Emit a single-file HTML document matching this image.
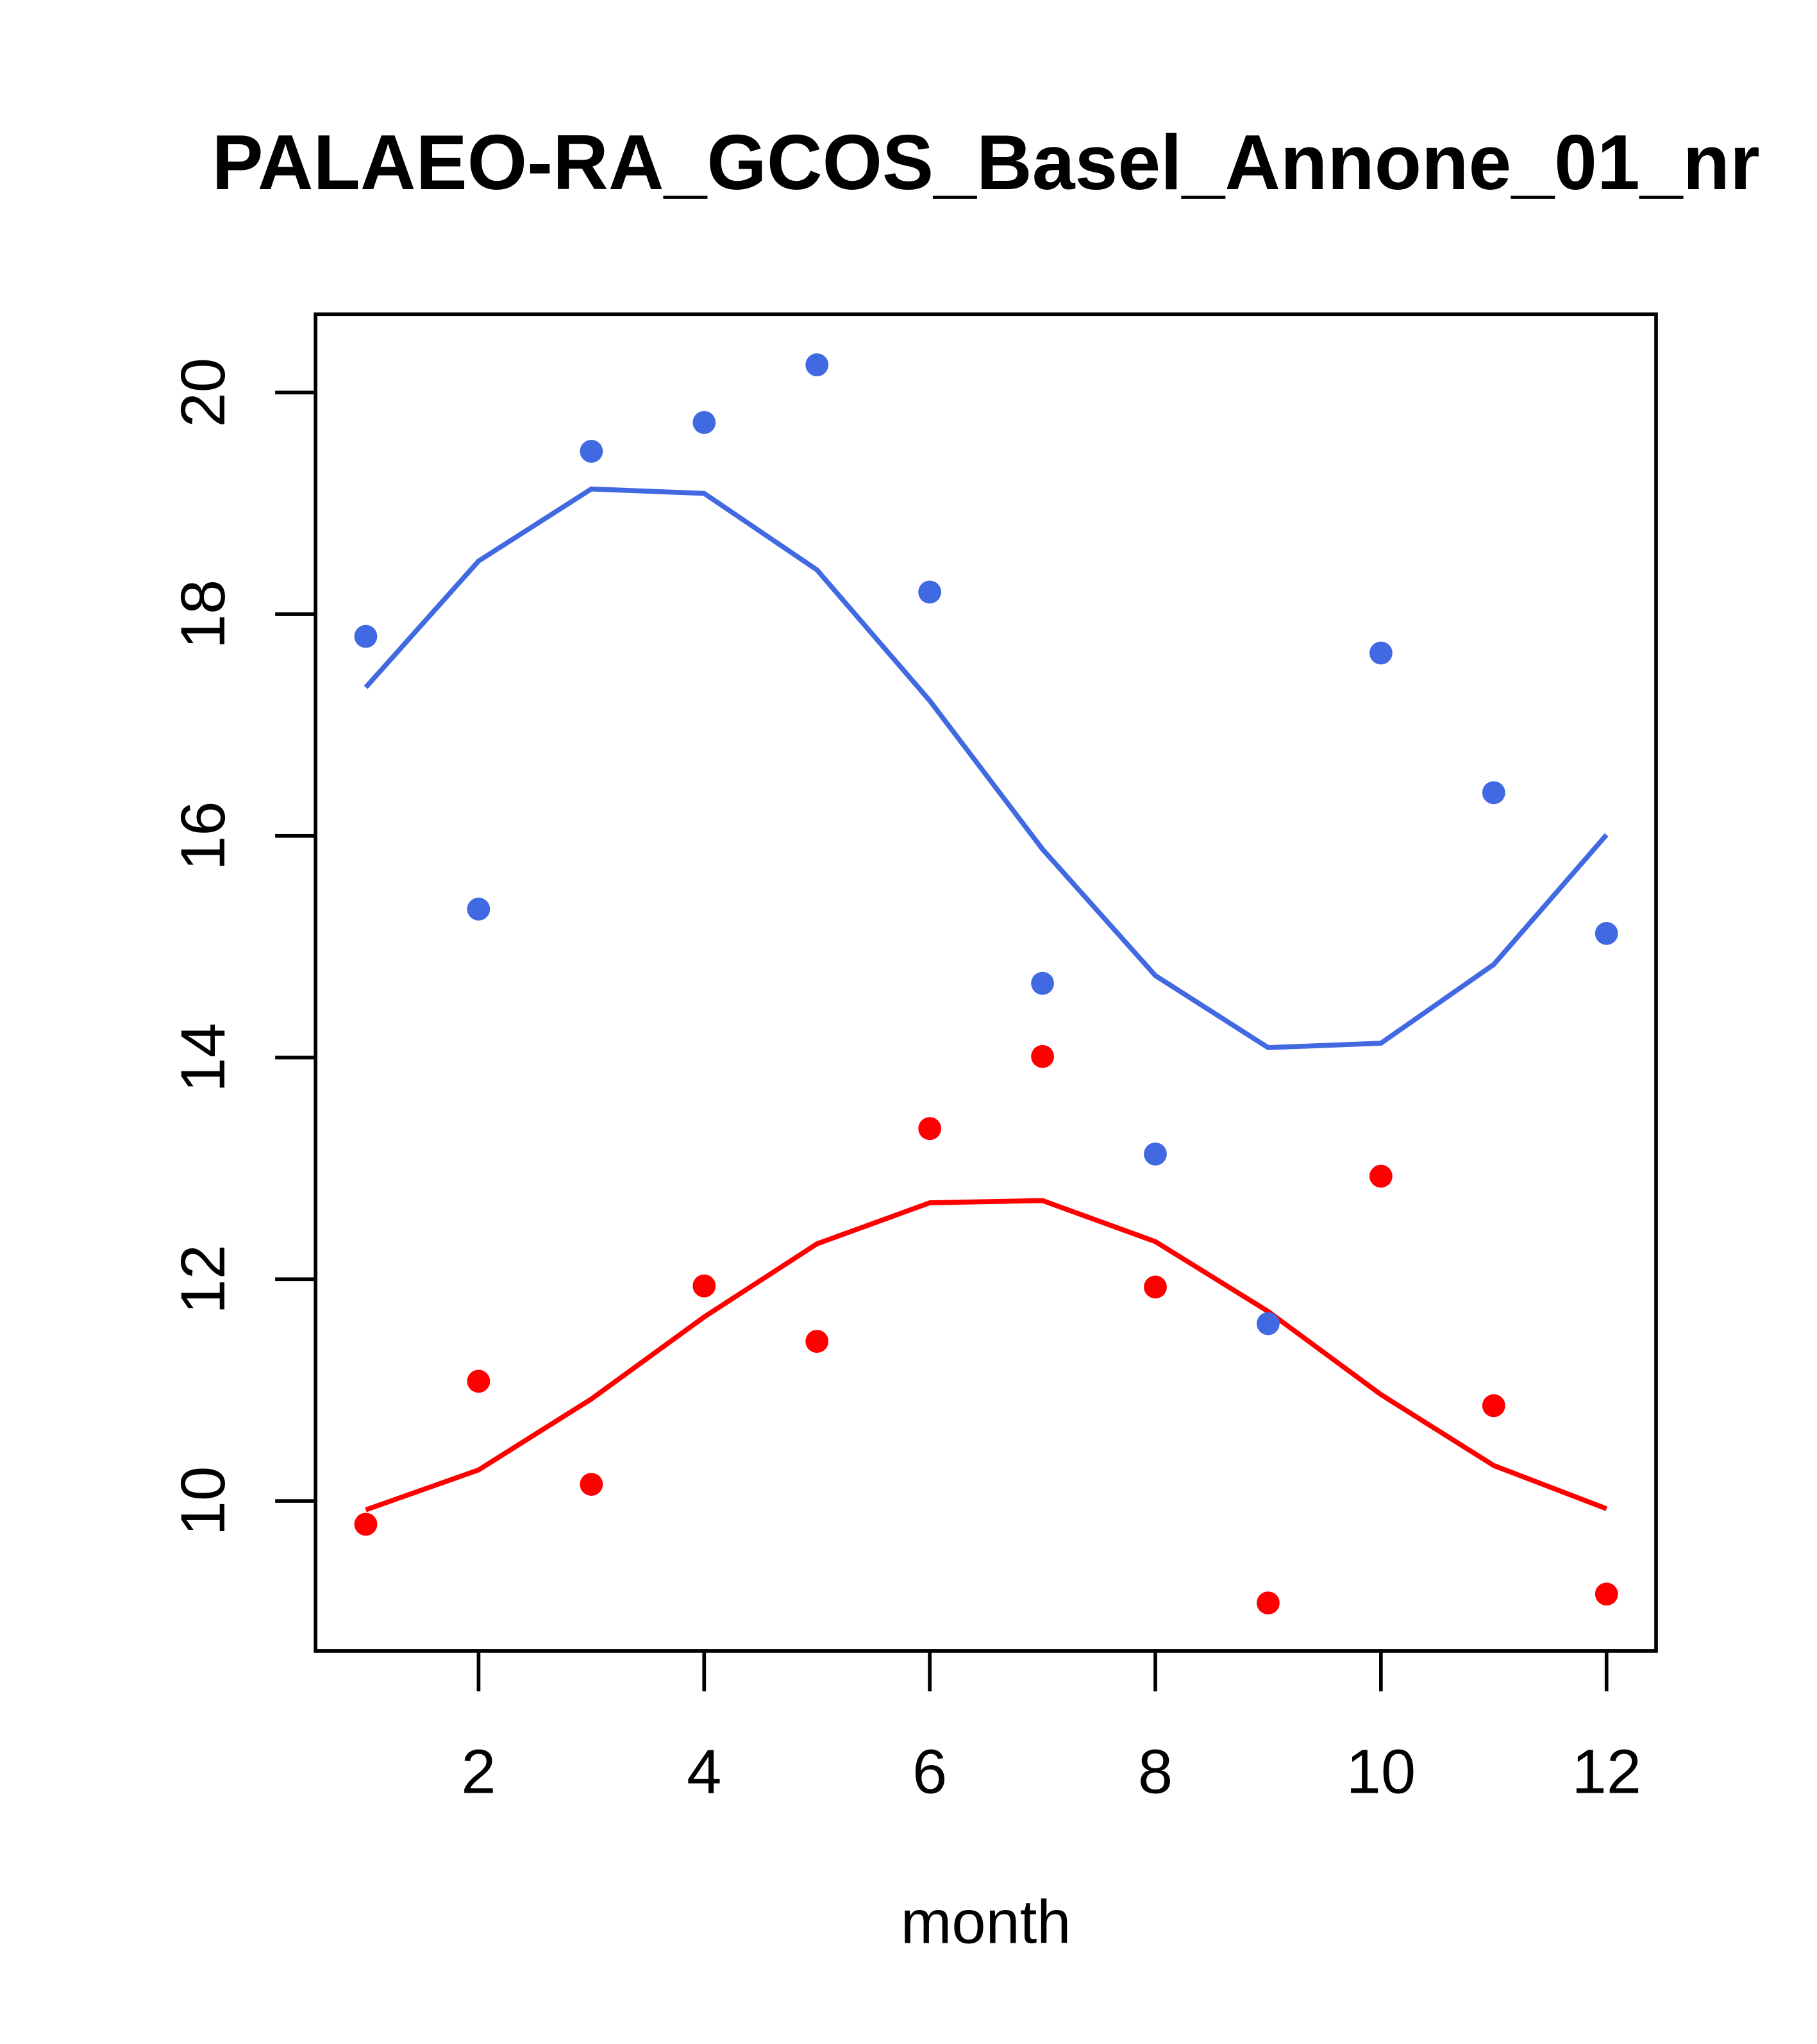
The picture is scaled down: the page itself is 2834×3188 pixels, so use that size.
<!DOCTYPE html>
<html><head><meta charset="utf-8"><style>html,body{margin:0;padding:0;background:#fff}svg{display:block}</style></head>
<body>
<svg id="chart" width="2834" height="3188" viewBox="0 0 1393.4 1567.4" xmlns="http://www.w3.org/2000/svg" font-family="Liberation Sans, Arial, sans-serif">
<rect width="1400" height="1575" fill="#fff"/>
<text x="756" y="145" font-size="60" font-weight="bold" text-anchor="middle" textLength="1187" lengthAdjust="spacingAndGlyphs">PALAEO-RA_GCOS_Basel_Annone_01_nr</text>
<rect x="242" y="241" width="1028" height="1025" fill="none" stroke="#000" stroke-width="2.8"/>
<g id="xaxis"></g>
<g id="yaxis"></g>
<text x="756" y="1490" font-size="47" text-anchor="middle">month</text>
<g id="marks"></g>
</svg>
<script>
const months=[1,2,3,4,5,6,7,8,9,10,11,12];
const bluePoints=[17.8,15.34,19.47,19.73,20.25,18.2,14.67,13.13,11.6,17.65,16.39,15.12];
const blueLine=[17.34,18.48,19.13,19.09,18.4,17.22,15.88,14.74,14.09,14.13,14.84,16.01];
const redPoints=[9.79,11.08,10.15,11.94,11.44,13.36,14.01,11.93,9.08,12.93,10.86,9.16];
const redLine=[9.92,10.28,10.92,11.66,12.32,12.69,12.71,12.34,11.71,10.96,10.32,9.93];
const xTicks=[2,4,6,8,10,12];
const yTicks=[10,12,14,16,18,20];
const NS='http://www.w3.org/2000/svg';
function sx(m){return 367+(m-2)*86.5;}
function sy(v){return 1151-(v-10)*85;}
function mk(t,a,p){const e=document.createElementNS(NS,t);for(const k in a)e.setAttribute(k,a[k]);p.appendChild(e);return e;}
const xa=document.getElementById('xaxis'),ya=document.getElementById('yaxis'),mg=document.getElementById('marks');
xTicks.forEach(t=>{
  const l=mk('line',{x1:sx(t),x2:sx(t),y1:1266,y2:1297,stroke:'#000','stroke-width':2.8},xa);
  
  
  const s=mk('text',{x:sx(t),y:1375,'font-size':48,'text-anchor':'middle'},xa);s.textContent=t;
  
  
});
yTicks.forEach(t=>{
  const l=mk('line',{x1:211,x2:242,y1:sy(t),y2:sy(t),stroke:'#000','stroke-width':2.8},ya);
  
  
  const s=mk('text',{x:0,y:0,'font-size':48,'text-anchor':'middle',transform:`translate(172,${sy(t)}) rotate(-90)`},ya);s.textContent=t;
  
  
});
function line(vals,color,name){
  const p=mk('polyline',{points:months.map((m,i)=>sx(m)+','+sy(vals[i])).join(' '),fill:'none',stroke:color,'stroke-width':3.8},mg);
  
  
}
function pts(vals,color,name){
  months.forEach((m,i)=>{
    const c=mk('circle',{cx:sx(m),cy:sy(vals[i]),r:8.8,fill:color},mg);
    
    
  });
}
line(blueLine,'#4169E1','blue-smooth-line');
line(redLine,'#FF0000','red-smooth-line');
pts(bluePoints,'#4169E1','blue-point');
pts(redPoints,'#FF0000','red-point');
</script>
</body></html>
